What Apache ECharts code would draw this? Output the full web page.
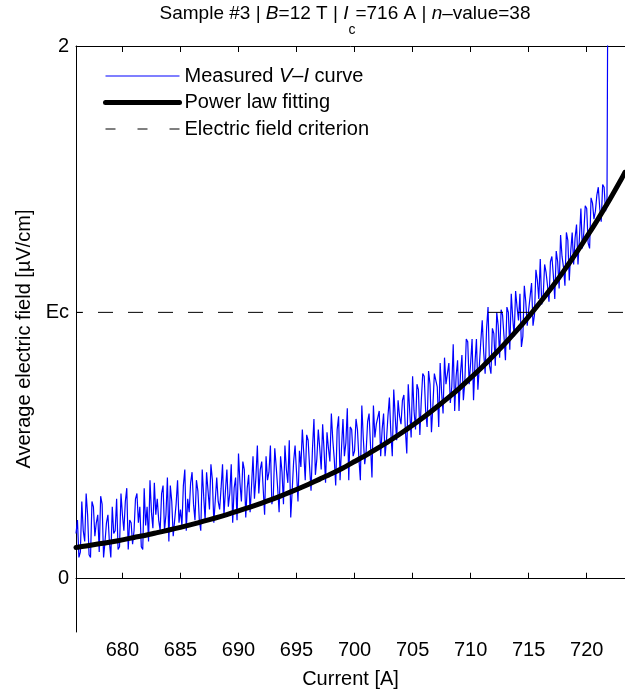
<!DOCTYPE html>
<html>
<head>
<meta charset="utf-8">
<script src="https://cdn.jsdelivr.net/npm/echarts@6/dist/echarts.min.js"></script>
<style>
html,body{margin:0;padding:0;background:#fff;}
#chart{width:625px;height:692px;}
</style>
</head>
<body>
<div id="chart"></div>
<script>
// ---- Data ----
const measuredCurrent = [
676,676.125,676.25,676.375,676.5,676.625,676.75,676.875,
677,677.125,677.25,677.375,677.5,677.625,677.75,677.875,
678,678.125,678.25,678.375,678.5,678.625,678.75,678.875,
679,679.125,679.25,679.375,679.5,679.625,679.75,679.875,
680,680.125,680.25,680.375,680.5,680.625,680.75,680.875,
681,681.125,681.25,681.375,681.5,681.625,681.75,681.875,
682,682.125,682.25,682.375,682.5,682.625,682.75,682.875,
683,683.125,683.25,683.375,683.5,683.625,683.75,683.875,
684,684.125,684.25,684.375,684.5,684.625,684.75,684.875,
685,685.125,685.25,685.375,685.5,685.625,685.75,685.875,
686,686.125,686.25,686.375,686.5,686.625,686.75,686.875,
687,687.125,687.25,687.375,687.5,687.625,687.75,687.875,
688,688.125,688.25,688.375,688.5,688.625,688.75,688.875,
689,689.125,689.25,689.375,689.5,689.625,689.75,689.875,
690,690.125,690.25,690.375,690.5,690.625,690.75,690.875,
691,691.125,691.25,691.375,691.5,691.625,691.75,691.875,
692,692.125,692.25,692.375,692.5,692.625,692.75,692.875,
693,693.125,693.25,693.375,693.5,693.625,693.75,693.875,
694,694.125,694.25,694.375,694.5,694.625,694.75,694.875,
695,695.125,695.25,695.375,695.5,695.625,695.75,695.875,
696,696.125,696.25,696.375,696.5,696.625,696.75,696.875,
697,697.125,697.25,697.375,697.5,697.625,697.75,697.875,
698,698.125,698.25,698.375,698.5,698.625,698.75,698.875,
699,699.125,699.25,699.375,699.5,699.625,699.75,699.875,
700,700.125,700.25,700.375,700.5,700.625,700.75,700.875,
701,701.125,701.25,701.375,701.5,701.625,701.75,701.875,
702,702.125,702.25,702.375,702.5,702.625,702.75,702.875,
703,703.125,703.25,703.375,703.5,703.625,703.75,703.875,
704,704.125,704.25,704.375,704.5,704.625,704.75,704.875,
705,705.125,705.25,705.375,705.5,705.625,705.75,705.875,
706,706.125,706.25,706.375,706.5,706.625,706.75,706.875,
707,707.125,707.25,707.375,707.5,707.625,707.75,707.875,
708,708.125,708.25,708.375,708.5,708.625,708.75,708.875,
709,709.125,709.25,709.375,709.5,709.625,709.75,709.875,
710,710.125,710.25,710.375,710.5,710.625,710.75,710.875,
711,711.125,711.25,711.375,711.5,711.625,711.75,711.875,
712,712.125,712.25,712.375,712.5,712.625,712.75,712.875,
713,713.125,713.25,713.375,713.5,713.625,713.75,713.875,
714,714.125,714.25,714.375,714.5,714.625,714.75,714.875,
715,715.125,715.25,715.375,715.5,715.625,715.75,715.875,
716,716.125,716.25,716.375,716.5,716.625,716.75,716.875,
717,717.125,717.25,717.375,717.5,717.625,717.75,717.875,
718,718.125,718.25,718.375,718.5,718.625,718.75,718.875,
719,719.125,719.25,719.375,719.5,719.625,719.75,719.875,
720,720.125,720.25,720.375,720.5,720.625,720.75,720.875,
721,721.125,721.25,721.375,721.5,721.625,721.75,721.85
];
const measuredField = [
.17,.22,.08,.10,.29,.18,.14,.32,
.24,.09,.08,.29,.27,.16,.21,.24,
.10,.31,.28,.08,.14,.21,.24,.14,
.08,.27,.17,.18,.30,.11,.12,.32,
.24,.18,.29,.34,.11,.22,.21,.13,
.18,.30,.32,.21,.27,.12,.11,.34,
.20,.27,.14,.37,.25,.19,.36,.24,
.30,.22,.18,.32,.35,.18,.24,.38,
.14,.35,.29,.16,.22,.28,.37,.21,
.26,.20,.35,.41,.18,.30,.25,.36,
.40,.28,.22,.37,.33,.22,.18,.41,
.31,.22,.40,.33,.26,.43,.37,.21,
.21,.38,.29,.26,.34,.43,.24,.33,
.41,.27,.32,.43,.21,.34,.38,.22,
.47,.36,.29,.44,.41,.23,.34,.39,
.25,.35,.46,.30,.38,.50,.32,.41,
.44,.34,.24,.46,.37,.40,.50,.28,
.31,.49,.42,.34,.25,.46,.40,.28,
.50,.41,.36,.52,.23,.33,.44,.50,
.40,.29,.48,.42,.56,.47,.37,.54,
.52,.42,.33,.49,.60,.39,.45,.56,
.49,.41,.58,.48,.36,.55,.49,.44,
.62,.52,.45,.35,.56,.61,.37,.49,
.60,.46,.51,.64,.37,.57,.56,.46,
.48,.60,.56,.45,.37,.65,.53,.43,
.48,.59,.62,.50,.38,.65,.53,.58,
.58,.63,.46,.56,.62,.46,.52,.61,
.68,.55,.46,.71,.61,.52,.67,.61,
.58,.67,.69,.56,.47,.73,.63,.53,
.76,.63,.56,.73,.71,.54,.67,.77,
.76,.63,.57,.78,.73,.55,.65,.77,
.77,.72,.57,.81,.70,.62,.83,.73,
.77,.81,.66,.72,.88,.63,.76,.82,
.63,.77,.84,.67,.74,.90,.89,.73,
.81,.90,.67,.81,.90,.71,.80,.89,
.97,.85,.77,.94,1.02,.80,.77,.94,
.92,.80,1.00,.95,.83,1.01,.99,.91,
.82,1.02,1.00,.86,1.07,.98,.91,1.08,
1.02,.97,1.07,.87,.91,1.10,1.04,.95,
1.01,1.06,1.11,.95,.99,1.16,1.12,1.05,
1.20,1.03,1.06,1.18,1.15,1.10,1.04,1.19,
1.21,1.14,1.05,1.23,1.19,1.09,1.29,1.21,
1.17,1.10,1.30,1.27,1.12,1.23,1.30,1.18,
1.28,1.33,1.18,1.28,1.39,1.24,1.30,1.40,
1.39,1.26,1.24,1.43,1.41,1.35,1.38,1.44,
1.47,1.39,1.34,1.48,1.47,1.38,1.43,2.6
];
const fitCurrent = [676,677,678,679,680,681,682,683,684,685,686,687,688,689,690,691,692,693,694,695,
696,697,698,699,700,701,702,703,704,705,706,707,708,709,710,711,712,713,714,715,716,717,718,719,720,721,722,723,723.3];
const fitField = [0.117,0.124,0.131,0.138,0.146,0.155,0.163,0.173,0.183,0.193,0.204,0.216,0.228,0.241,0.255,0.269,
0.284,0.300,0.317,0.335,0.354,0.374,0.394,0.416,0.440,0.464,0.490,0.517,0.546,0.576,0.608,0.642,0.677,0.714,0.754,
0.795,0.839,0.885,0.933,0.984,1.038,1.094,1.154,1.217,1.283,1.352,1.425,1.502,1.526];
const criterionCurrent = [676, 723.3];
const criterionField = [1, 1];
const yTickValues = [0, 1, 2];
const yTickLabels = ['0', 'Ec', '2'];
const seriesNames = ['Measured V–I curve', 'Power law fitting', 'Electric field criterion'];

// ---- Chart ----
const FONT = "'Liberation Sans', Arial, Helvetica, sans-serif";
const chart = echarts.init(document.getElementById('chart'), null, {renderer: 'canvas'});
const pairs = (xs, ys) => xs.map((x, i) => [x, ys[i]]);

const xCommon = {
  type: 'value', min: 676, max: 723.3, splitNumber: 9, minInterval: 5, maxInterval: 5,
  axisLine: {show: true, lineStyle: {color: '#000', width: 1}},
  axisTick: {show: true, inside: true, length: 6, lineStyle: {color: '#000'}},
  splitLine: {show: false}
};

const tokenR = {fontFamily: FONT, fontSize: 19, fill: '#000', verticalAlign: 'top'};

chart.setOption({
  animation: false,
  backgroundColor: '#fff',
  textStyle: {fontFamily: FONT},
  grid: {left: 76, right: 0, top: 46, bottom: 60, containLabel: false, outerBoundsMode: 'none'},
  graphic: [{
    type: 'text', x: 345, y: 4, z: 100,
    style: {
      text: '{r|Sample #3 | }{i|B}{r|=12 T | }{i|I}{sub|c}{r|=716 A | }{i|n}{r|–value=38}',
      align: 'center', verticalAlign: 'top',
      fontFamily: FONT, fontSize: 19, fill: '#000',
      rich: {
        r: tokenR,
        i: Object.assign({}, tokenR, {fontStyle: 'italic'}),
        sub: {fontFamily: FONT, fontSize: 14, fill: '#000', padding: [19, 0, 0, 0], verticalAlign: 'top'}
      }
    }
  }],
  legend: {
    show: true, orient: 'vertical', left: 103, top: 66, padding: 0,
    itemWidth: 74, itemHeight: 20, itemGap: 6.5,
    itemStyle: {opacity: 0},
    data: [
      {name: seriesNames[0], lineStyle: {width: 1.2, color: '#0000ff'}},
      {name: seriesNames[1], lineStyle: {width: 5, color: '#000'}},
      {name: seriesNames[2], lineStyle: {width: 1, color: '#000', type: [10, 22], dashOffset: 0}}
    ],
    formatter: function (name) {
      if (name === seriesNames[0]) return 'Measured {i|V}–{i|I} curve';
      return name;
    },
    textStyle: {
      color: '#000', fontSize: 20, fontFamily: FONT,
      rich: {i: {fontStyle: 'italic', fontSize: 20, fontFamily: FONT, color: '#000'}}
    }
  },
  xAxis: [
    Object.assign({}, xCommon, {
      position: 'bottom',
      name: 'Current [A]', nameLocation: 'middle', nameGap: 37,
      nameTextStyle: {color: '#000', fontSize: 20, fontFamily: FONT},
      axisLabel: {show: true, color: '#000', fontSize: 20, fontFamily: FONT, margin: 8,
        showMinLabel: false, showMaxLabel: false}
    }),
    Object.assign({}, xCommon, {position: 'top', axisLabel: {show: false}})
  ],
  yAxis: {
    type: 'value', min: -0.2, max: 2, minInterval: 1, maxInterval: 1,
    name: 'Average electric field [µV/cm]', nameLocation: 'middle', nameGap: 40,
    nameTextStyle: {color: '#000', fontSize: 20, fontFamily: FONT},
    axisLine: {show: true, lineStyle: {color: '#000', width: 1}},
    axisTick: {show: true, inside: true, length: 6, lineStyle: {color: '#000'}},
    splitLine: {show: false},
    axisLabel: {
      show: true, color: '#000', fontSize: 20, fontFamily: FONT, margin: 7,
      showMinLabel: false,
      formatter: function (v) {
        const k = yTickValues.indexOf(Math.round(v * 1000) / 1000);
        return k >= 0 ? yTickLabels[k] : '';
      }
    }
  },
  series: [
    {
      name: seriesNames[0], type: 'line', xAxisIndex: 0, data: pairs(measuredCurrent, measuredField),
      symbol: 'none', showSymbol: false, clip: true,
      lineStyle: {color: '#0000ff', width: 1.2}, itemStyle: {color: '#0000ff'}, z: 2
    },
    {
      name: seriesNames[1], type: 'line', xAxisIndex: 0, data: pairs(fitCurrent, fitField),
      symbol: 'none', showSymbol: false, clip: true, smooth: 0.2,
      lineStyle: {color: '#000', width: 5, cap: 'round', join: 'round'}, itemStyle: {color: '#000'}, z: 3
    },
    {
      name: seriesNames[2], type: 'line', xAxisIndex: 0, data: pairs(criterionCurrent, criterionField),
      symbol: 'none', showSymbol: false, clip: true,
      lineStyle: {color: '#000', width: 1, type: [15, 15], dashOffset: 8}, itemStyle: {color: '#000'}, z: 4
    }
  ]
});
</script>
</body>
</html>
